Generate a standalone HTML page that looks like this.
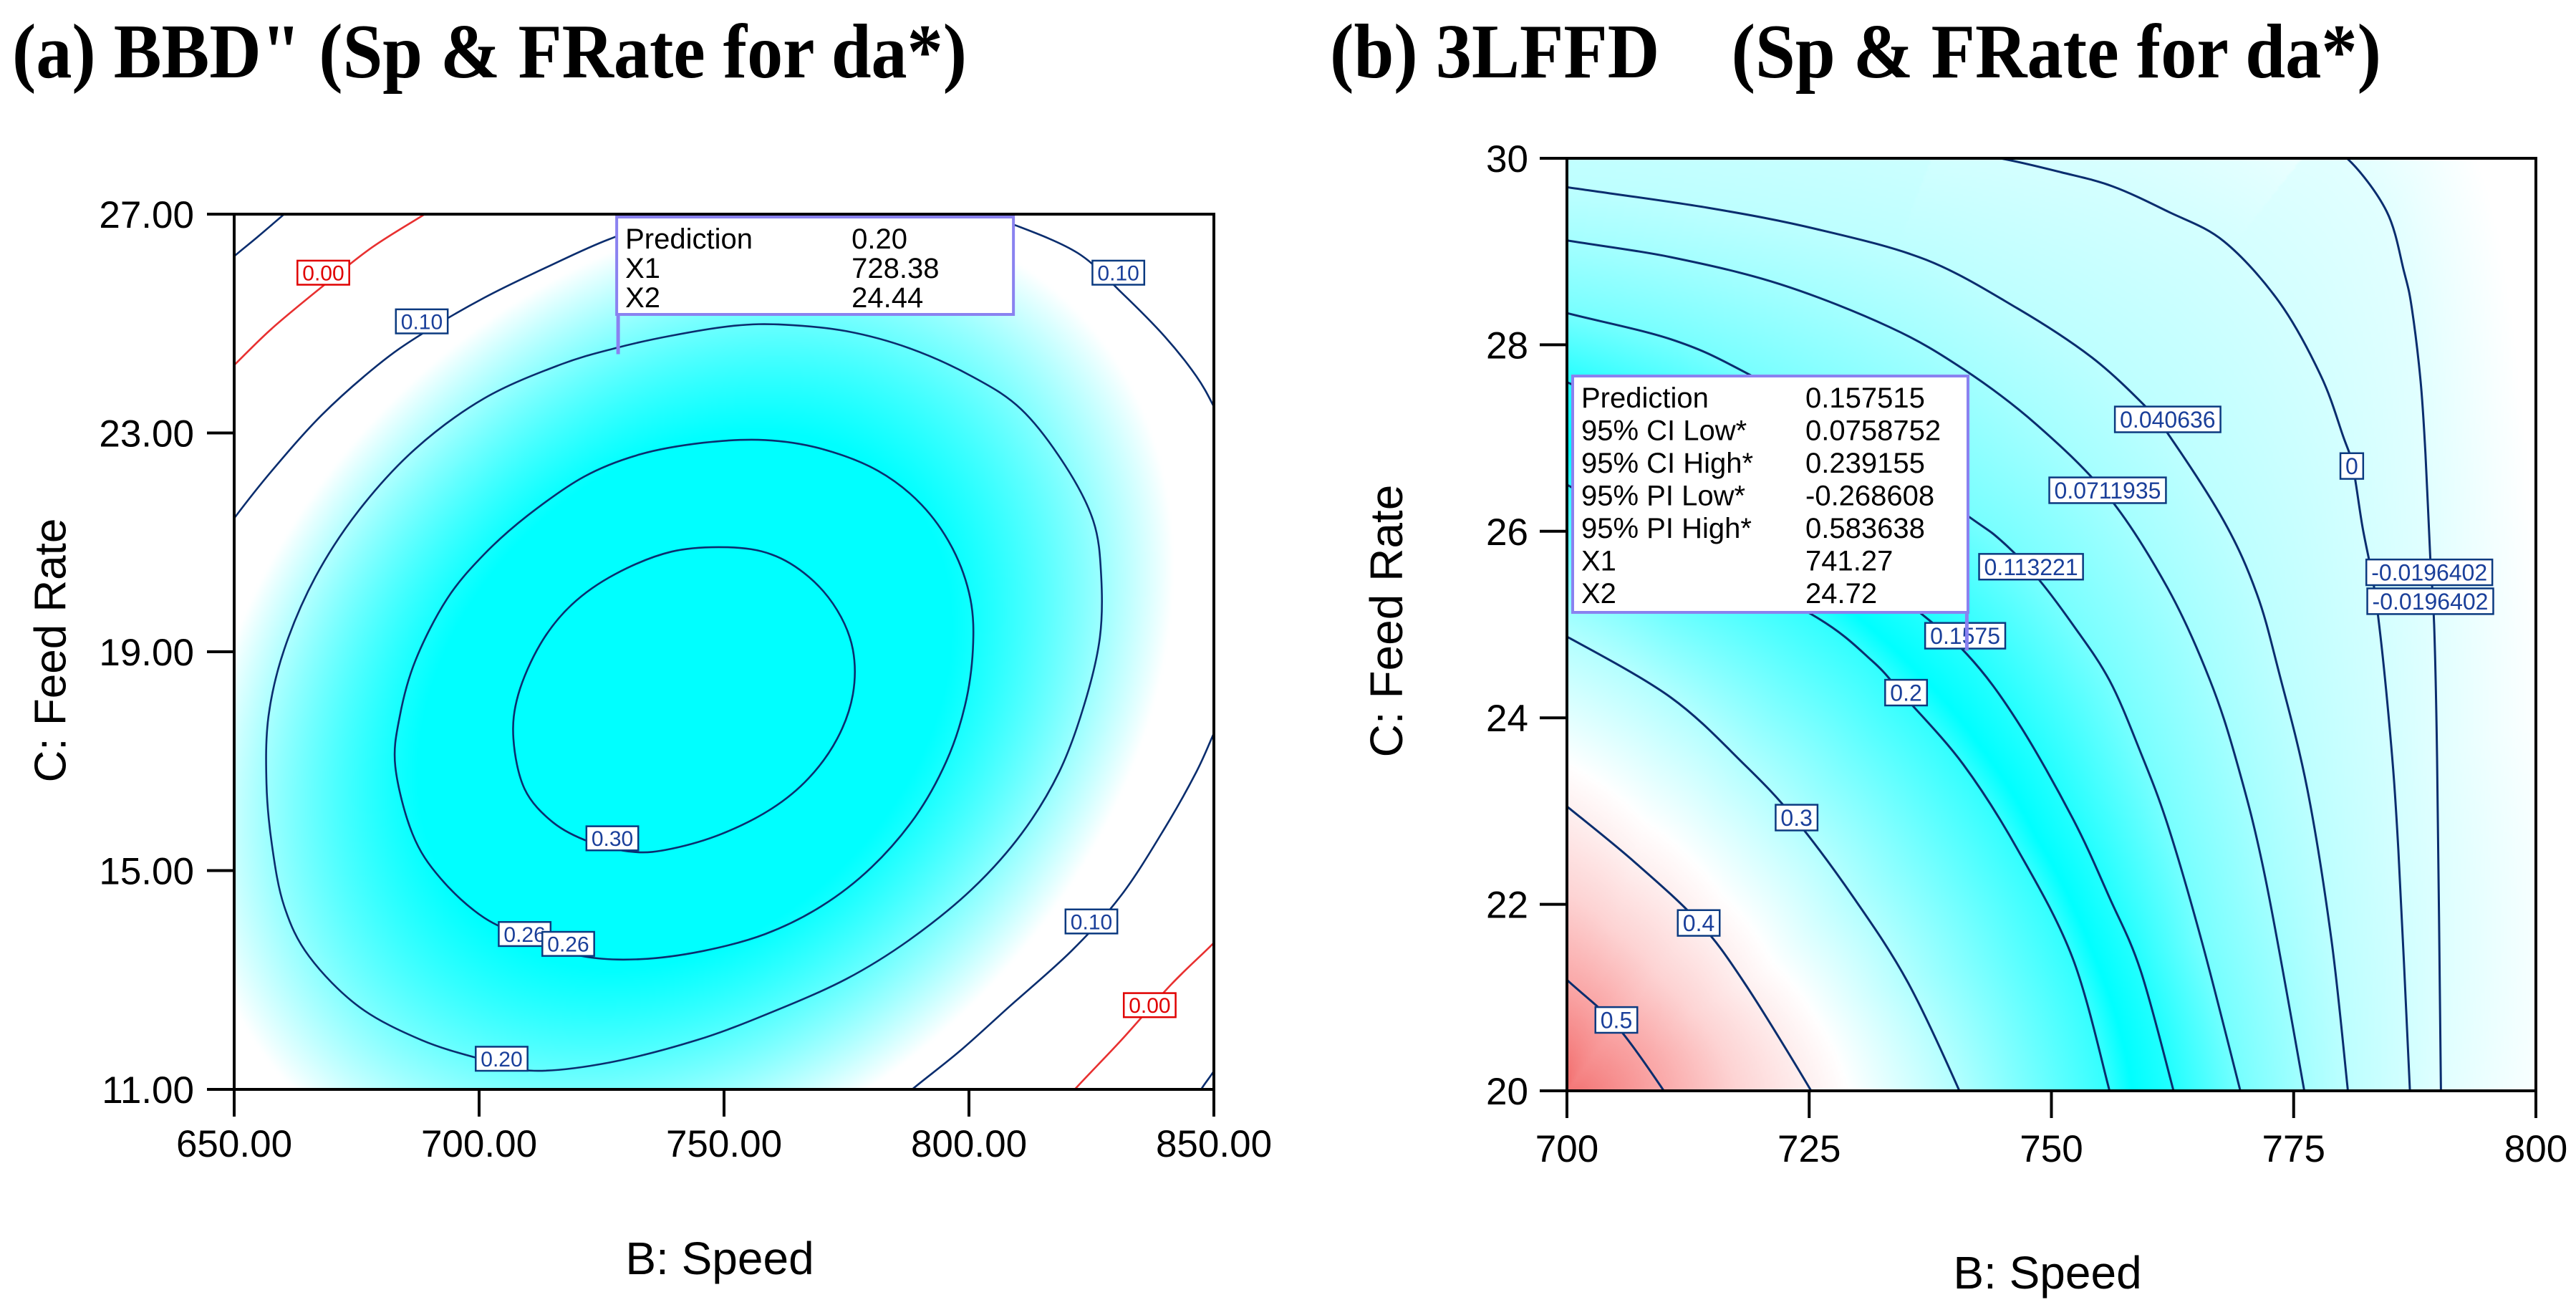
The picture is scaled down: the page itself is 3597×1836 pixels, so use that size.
<!DOCTYPE html>
<html><head><meta charset="utf-8"><style>
html,body{margin:0;padding:0;background:#fff;}
body{width:3597px;height:1836px;position:relative;overflow:hidden;font-family:"Liberation Sans",sans-serif;}
canvas{position:absolute;}
svg{position:absolute;left:0;top:0;}
</style></head><body>
<canvas id="bgL" style="left:327px;top:299px;width:1368px;height:1222px"></canvas>
<canvas id="bgR" style="left:2188px;top:221px;width:1353px;height:1302px"></canvas>
<svg id="s" width="3597" height="1836" viewBox="0 0 3597 1836" xmlns="http://www.w3.org/2000/svg">
<defs>
<clipPath id="clipL"><rect x="327" y="299" width="1368" height="1222"/></clipPath>
<clipPath id="clipR"><rect x="2188" y="221" width="1353" height="1302"/></clipPath>
</defs>
<text x="17" y="108" font-family="Liberation Serif, serif" font-weight="bold" font-size="108" textLength="1333" lengthAdjust="spacingAndGlyphs">(a) BBD" (Sp &amp; FRate for da*)</text>
<text x="1857" y="108" font-family="Liberation Serif, serif" font-weight="bold" font-size="108" textLength="1468" lengthAdjust="spacingAndGlyphs" xml:space="preserve" style="white-space:pre">(b) 3LFFD    (Sp &amp; FRate for da*)</text>
<g id="gL"></g>
<g id="gR"></g>
</svg>
<script>
// ---------- data: left chart (BBD) ----------
const leftXTicks=[650,700,750,800,850];
const leftXTickLabels=['650.00','700.00','750.00','800.00','850.00'];
const leftYTicks=[11,15,19,23,27];
const leftYTickLabels=['11.00','15.00','19.00','23.00','27.00'];
// quadratic response model (coded units): f0, uCenter, vCenter, A, B, C, scale
const leftModel=[0.32,-0.08,-0.11,1.27,1.0,-0.61,0.158];
const lc030=[[707.0,17.41],[708.0,18.22],[712.5,19.14],[718.9,19.86],[727.8,20.42],[739.3,20.83],[750.8,20.91],[759.7,20.78],[767.3,20.37],[773.1,19.76],[776.3,19.04],[776.3,18.22],[773.1,17.41],[767.3,16.69],[759.7,16.13],[749.5,15.67],[739.3,15.4],[731.6,15.34],[722.7,15.52],[715.1,15.88],[709.3,16.49]];
const lc026=[[682.9,16.9],[683.8,17.82],[687.0,18.84],[693.4,19.96],[701.0,20.78],[709.9,21.49],[721.4,22.2],[732.9,22.61],[745.7,22.82],[758.4,22.87],[769.9,22.71],[781.4,22.31],[790.3,21.69],[796.7,20.88],[800.3,19.96],[800.8,19.04],[799.2,18.02],[795.4,17.0],[789.0,15.98],[780.1,15.06],[769.9,14.35],[758.4,13.84],[745.7,13.53],[732.9,13.38],[721.4,13.43],[711.2,13.73],[701.0,14.14],[692.1,14.86],[686.4,15.67]];
const lc020=[[656.6,16.59],[657.0,17.82],[660.2,19.04],[666.6,20.37],[675.5,21.59],[687.0,22.71],[701.0,23.63],[716.3,24.24],[727.8,24.55],[739.3,24.78],[752.0,24.96],[762.2,24.98],[775.0,24.86],[787.8,24.55],[800.5,24.04],[810.7,23.43],[819.6,22.41],[825.4,21.39],[827.0,20.37],[826.7,19.24],[823.5,18.02],[818.4,16.8],[810.7,15.67],[800.5,14.65],[787.8,13.73],[775.0,13.02],[759.7,12.41],[744.4,11.9],[726.5,11.49],[711.2,11.34],[701.0,11.54],[688.3,11.9],[675.5,12.51],[665.3,13.43],[660.2,14.35],[657.7,15.47]];
const lc010a=[[645,20.8],[650,21.44],[657.7,22.31],[667.9,23.33],[679.3,24.24],[688.3,24.81],[701.0,25.47],[713.8,26.03],[726.5,26.54],[739.3,26.9],[764.8,27.2],[790,27.15],[803,26.95],[809.4,26.8],[822.2,26.29],[831.1,25.57],[840.0,24.76],[846.4,24.04],[850,23.48],[853,22.9]];
const lc010b=[[853,18.1],[850,17.51],[846.4,16.8],[840.0,15.78],[831.1,14.55],[820.9,13.53],[808.2,12.51],[798.0,11.69],[788.4,11.0],[785,10.7]];
const lc000a=[[645,23.8],[650,24.24],[657.7,24.91],[667.9,25.67],[678.1,26.39],[688.9,27.0],[693,27.25]];
const lc000b=[[817,10.5],[821.6,11.0],[831.1,11.9],[841.3,12.92],[850,13.68],[854,14.1]];
const lcm010a=[[646,25.9],[650,26.23],[655,26.6],[660.2,27.0],[664,27.3]];
const lcm010b=[[845,10.6],[847.4,11.0],[850.1,11.35],[853,11.8]];
const leftContours=[lc030,lc026,lc020,lc010a,lc010b,lc000a,lc000b,lcm010a,lcm010b];
const leftContourLevels=[0.30,0.26,0.20,0.10,0.10,0.00,0.00,-0.10,-0.10];
const leftLabelText=['0.00','0.10','0.10','0.30','0.26','0.26','0.20','0.10','0.00'];
const leftLabelPos=[[668.2,25.93],[688.3,25.04],[830.5,25.93],[727.2,15.59],[709.3,13.84],[718.2,13.66],[704.6,11.56],[825.0,14.07],[836.9,12.54]];
const leftPrediction=[728.38,24.44];
const leftPredRows=[['Prediction','0.20'],['X1','728.38'],['X2','24.44']];

// ---------- data: right chart (3LFFD) ----------
const rightXTicks=[700,725,750,775,800];
const rightXTickLabels=['700','725','750','775','800'];
const rightYTicks=[20,22,24,26,28,30];
const rightYTickLabels=['20','22','24','26','28','30'];
const rc05=[[697,21.5],[700,21.19],[705.1,20.7],[710.0,20.0],[711,19.8]];
const rc04=[[697,23.3],[700,23.05],[706.9,22.46],[713.6,21.81],[718.3,21.16],[725.2,20.0],[726,19.8]];
const rc03=[[697,25.0],[700,24.87],[710.7,24.22],[718.3,23.5],[723.5,22.92],[729.6,22.07],[735.2,21.16],[740.5,20.0],[741,19.8]];
const rc02=[[697,26.7],[700,26.5],[712,25.8],[725.4,25.1],[731.5,24.61],[734.9,24.22],[740.9,23.5],[746.5,22.59],[752.2,21.42],[756.0,20.0],[756.5,19.8]];
const rc01575=[[697,27.75],[700,27.6],[712,27.0],[725,26.1],[735,25.25],[741.3,24.68],[746.5,23.96],[752.2,22.92],[756.0,22.07],[759.2,21.29],[762.6,20.0],[763,19.8]];
const rc01132=[[697,28.45],[700,28.34],[710.7,28.06],[718.3,27.71],[730,27.0],[741.3,26.17],[744.7,25.91],[748.4,25.52],[752.2,25.0],[756.0,24.4],[759.2,23.63],[762.0,22.85],[765.5,21.61],[769.5,20.0],[770,19.8]];
const rc00712=[[697,29.2],[700,29.12],[710.7,28.94],[722.0,28.65],[733.3,28.19],[740.9,27.74],[748.4,27.15],[755.9,26.37],[762.0,25.39],[766.3,24.42],[769.2,23.5],[772.1,22.27],[776.1,20.0],[776.4,19.8]];
const rc00406=[[697,29.75],[700,29.69],[714.5,29.47],[725.8,29.24],[737.1,28.91],[746.5,28.39],[754.1,27.87],[759.6,27.35],[762.0,27.05],[767.8,26.11],[771.2,25.33],[773.5,24.48],[776.4,23.24],[778.9,21.62],[780.6,20.0],[780.8,19.8]];
const rc000=[[738,30.1],[744.7,30.0],[751,29.85],[756.3,29.7],[762.0,29.43],[767.8,29.11],[773.5,28.46],[777.8,27.67],[780.1,27.02],[781.1,26.7],[782.1,26.05],[783.5,25.26],[784.9,23.9],[785.8,22.59],[787.0,20.0],[787.1,19.8]];
const rcm0196=[[777,30.15],[780.5,30.0],[784.6,29.43],[786.4,28.78],[787.2,28.39],[788.1,27.61],[788.6,26.83],[789.1,25.72],[789.5,25.0],[789.8,23.57],[790.2,20.0],[790.2,19.8]];
const rightContours=[rc05,rc04,rc03,rc02,rc01575,rc01132,rc00712,rc00406,rc000,rcm0196];
const rightContourLevels=[0.5,0.4,0.3,0.2,0.1575,0.113221,0.0711935,0.040636,0,-0.0196402];
const rightLabelText=['0.040636','0.0711935','0.113221','0.1575','0.2','0.3','0.4','0.5','0','-0.0196402','-0.0196402'];
const rightLabelPos=[[762.0,27.2],[755.8,26.44],[747.9,25.62],[741.1,24.88],[735.0,24.27],[723.7,22.93],[713.6,21.8],[705.1,20.76],[781.0,26.7],[789.0,25.56],[789.1,25.25]];
const rightPrediction=[741.27,24.72];
const rightPredRows=[['Prediction','0.157515'],['95% CI Low*','0.0758752'],['95% CI High*','0.239155'],['95% PI Low*','-0.268608'],['95% PI High*','0.583638'],['X1','741.27'],['X2','24.72']];

// ---------- helpers ----------
const NS='http://www.w3.org/2000/svg';
function mk(tag,attrs,parent){const e=document.createElementNS(NS,tag);for(const k in attrs)e.setAttribute(k,attrs[k]);parent.appendChild(e);return e;}
function axis(d0,d1,p0,p1){return v=>p0+(v-d0)/(d1-d0)*(p1-p0);}
function smooth(pts){
  let d='M'+pts[0][0].toFixed(1)+','+pts[0][1].toFixed(1);
  for(let i=0;i<pts.length-1;i++){
    const p0=pts[Math.max(0,i-1)],p1=pts[i],p2=pts[i+1],p3=pts[Math.min(pts.length-1,i+2)];
    const c1=[p1[0]+(p2[0]-p0[0])/6,p1[1]+(p2[1]-p0[1])/6];
    const c2=[p2[0]-(p3[0]-p1[0])/6,p2[1]-(p3[1]-p1[1])/6];
    d+=' C'+c1[0].toFixed(1)+','+c1[1].toFixed(1)+' '+c2[0].toFixed(1)+','+c2[1].toFixed(1)+' '+p2[0].toFixed(1)+','+p2[1].toFixed(1);
  }
  return d;
}
function closedSmooth(pts){const n=pts.length;const ext=[pts[n-1]].concat(pts,[pts[0],pts[1]]);
  let d='M'+pts[0][0].toFixed(1)+','+pts[0][1].toFixed(1);
  for(let i=1;i<=n;i++){const p0=ext[i-1],p1=ext[i],p2=ext[i+1],p3=ext[i+2];
    const c1=[p1[0]+(p2[0]-p0[0])/6,p1[1]+(p2[1]-p0[1])/6];const c2=[p2[0]-(p3[0]-p1[0])/6,p2[1]-(p3[1]-p1[1])/6];
    d+=' C'+c1[0].toFixed(1)+','+c1[1].toFixed(1)+' '+c2[0].toFixed(1)+','+c2[1].toFixed(1)+' '+p2[0].toFixed(1)+','+p2[1].toFixed(1);}
  return d+'Z';
}
function lerpColor(stops,v){
  if(v<=stops[0][0])return stops[0].slice(1);
  for(let i=1;i<stops.length;i++){if(v<=stops[i][0]){const a=stops[i-1],b=stops[i];const t=(v-a[0])/(b[0]-a[0]);return [a[1]+(b[1]-a[1])*t,a[2]+(b[2]-a[2])*t,a[3]+(b[3]-a[3])*t];}}
  return stops[stops.length-1].slice(1);
}

function drawFrame(g,X,Y,x0,x1,y0,y1,xt,xtl,yt,ytl,tickLen,xLabY,yLabX,names){
  mk('rect',{x:x0,y:y0,width:x1-x0,height:y1-y0,fill:'none',stroke:'#000','stroke-width':4,},g);
  xt.forEach((v,i)=>{
    const t=mk('line',{x1:X(v),x2:X(v),y1:y1,y2:y1+tickLen,stroke:'#000','stroke-width':4},g);
    
    
    const l=mk('text',{x:X(v),y:xLabY,'font-size':53,'text-anchor':'middle',fill:'#000'},g);
    
    
    l.textContent=xtl[i];
  });
  yt.forEach((v,i)=>{
    const t=mk('line',{x1:x0-tickLen,x2:x0,y1:Y(v),y2:Y(v),stroke:'#000','stroke-width':4},g);
    
    
    const l=mk('text',{x:yLabX,y:Y(v)+19,'font-size':53,'text-anchor':'end',fill:'#000'},g);
    
    
    l.textContent=ytl[i];
  });
}
function drawLabel(g,x,y,txt,fs,red,name){
  const grp=mk('g',{},g);
  
  
  const r=mk('rect',{fill:'#fff',stroke:red?'#e00000':'#0b3a80','stroke-width':2.5},grp);
  const t=mk('text',{x:x,y:y+fs*0.36,'font-size':fs,'text-anchor':'middle',fill:red?'#e00000':'#1a3f9a'},grp);
  t.textContent=txt;
  let w=txt.length*fs*0.556;try{w=t.getBBox().width;}catch(e){}
  const h=fs*1.12;
  r.setAttribute('x',x-w/2-7);r.setAttribute('y',y-h/2);r.setAttribute('width',w+14);r.setAttribute('height',h);
}
function drawPred(g,px,py,left,top,w,h,rows,fs,rowGap,valX,name){
  const grp=mk('g',{},g);
  
  
  mk('line',{x1:px,x2:px,y1:top+h,y2:py,stroke:'#8a82f0','stroke-width':5},grp);
  mk('rect',{x:left,y:top,width:w,height:h,fill:'#fff',stroke:'#8a82f0','stroke-width':4},grp);
  rows.forEach((r,i)=>{
    const a=mk('text',{x:left+12,y:top+44+i*rowGap,'font-size':fs,fill:'#000'},grp);a.textContent=r[0];
    const b=mk('text',{x:left+valX,y:top+44+i*rowGap,'font-size':fs,fill:'#000'},grp);b.textContent=r[1];
  });
}

// ---------- left chart ----------
(function(){
  const g=document.getElementById('gL');
  const x0=327,x1=1695,y0=299,y1=1521;
  const X=axis(650,850,x0,x1),Y=axis(11,27,y1,y0);
  const cv=document.getElementById('bgL');const sc=3;const cw=Math.round((x1-x0)/sc),ch=Math.round((y1-y0)/sc);
  cv.width=cw;cv.height=ch;const ctx=cv.getContext('2d');const img=ctx.createImageData(cw,ch);
  const [f0,uc,vc,A,B,C,s]=leftModel;
  for(let j=0;j<ch;j++)for(let i=0;i<cw;i++){
    const u=(i+0.5)/cw*2-1,v=1-(j+0.5)/ch*2;const du=u-uc,dv=v-vc;
    const f=f0-s*(A*du*du+B*dv*dv+C*du*dv);
    let t=Math.min(1,Math.max(0,(f-0.135)/0.13));
    const rr=255*(1-t);const k=(j*cw+i)*4;
    img.data[k]=rr;img.data[k+1]=255;img.data[k+2]=255;img.data[k+3]=255;
  }
  ctx.putImageData(img,0,0);
  const cg=mk('g',{'clip-path':'url(#clipL)'},g);
  leftContours.forEach((c,i)=>{
    const pts=c.map(p=>[X(p[0]),Y(p[1])]);
    const closed=i<3;
    const p=mk('path',{d:closed?closedSmooth(pts):smooth(pts),fill:'none',stroke:leftContourLevels[i]===0?'#e83030':'#0a2d6e','stroke-width':2.6},cg);
    
    
  });
  drawFrame(g,X,Y,x0,x1,y0,y1,leftXTicks,leftXTickLabels,leftYTicks,leftYTickLabels,38,1615,271,'left');
  leftLabelText.forEach((t,i)=>drawLabel(g,X(leftLabelPos[i][0]),Y(leftLabelPos[i][1]),t,30,t==='0.00','left-contour-label'));
  const px=X(leftPrediction[0]),py=Y(leftPrediction[1]);
  drawPred(g,px,py,px-2,303,554,136,leftPredRows,40,41,328,'left-prediction-tooltip');
  const yt=mk('text',{x:0,y:0,'font-size':62,'text-anchor':'middle','dominant-baseline':'central',transform:'translate(71,908) rotate(-90)',fill:'#000',},g);yt.textContent='C: Feed Rate';
  const xt=mk('text',{x:1005,y:1757,'font-size':64,'text-anchor':'middle','dominant-baseline':'central',fill:'#000',},g);xt.textContent='B: Speed';
})();

// ---------- right chart ----------
(function(){
  const g=document.getElementById('gR');
  const x0=2188,x1=3541,y0=221,y1=1523;
  const X=axis(700,800,x0,x1),Y=axis(20,30,y1,y0);
  const polar=rightContours.map(c=>{
    const arr=c.map(p=>{const a=(p[0]-700)/100,b=(p[1]-20)/10;return {th:Math.atan2(b,a),r:Math.hypot(a,b),b:b};});
    arr.sort((m,n)=>m.th-n.th);return arr;});
  function rAt(arr,th){
    if(th<=arr[0].th)return arr[0].r;
    const last=arr[arr.length-1];
    if(th>=last.th)return last.b>=0.99?Infinity:last.r;
    for(let i=1;i<arr.length;i++)if(th<=arr[i].th){const a=arr[i-1],b=arr[i];const t=(th-a.th)/(b.th-a.th);return a.r+(b.r-a.r)*t;}
    return last.r;
  }
  const stops=[[-0.05,255,255,255],[-0.02,226,255,255],[0.0,212,255,255],[0.04,190,255,255],[0.0712,165,255,255],[0.113,120,255,255],[0.1575,35,255,255],[0.185,0,255,255],[0.2,50,255,255],[0.3,178,255,255],[0.375,255,255,255],[0.45,253,212,212],[0.5,250,170,170],[0.6,238,75,75]];
  const cv=document.getElementById('bgR');const sc=3;const cw=Math.round((x1-x0)/sc),ch=Math.round((y1-y0)/sc);
  cv.width=cw;cv.height=ch;const ctx=cv.getContext('2d');const img=ctx.createImageData(cw,ch);
  const L=rightContourLevels;
  for(let j=0;j<ch;j++)for(let i=0;i<cw;i++){
    const a=(i+0.5)/cw,b=1-(j+0.5)/ch;const th=Math.atan2(b,a),r=Math.hypot(a,b);
    const rs=polar.map(p=>rAt(p,th));
    let v;
    if(r<=rs[0])v=L[0]+(rs[0]-r)*0.6;
    else{let k=0;while(k<rs.length-1&&rs[k+1]<r)k++;
      if(k===rs.length-1||!isFinite(rs[k+1]))v=L[k]-(r-rs[k])*0.25;
      else{const t=(r-rs[k])/(rs[k+1]-rs[k]);v=L[k]+(L[k+1]-L[k])*t;}}
    const c=lerpColor(stops,v);const q=(j*cw+i)*4;
    img.data[q]=c[0];img.data[q+1]=c[1];img.data[q+2]=c[2];img.data[q+3]=255;
  }
  ctx.putImageData(img,0,0);
  const cg=mk('g',{'clip-path':'url(#clipR)'},g);
  rightContours.forEach((c,i)=>{
    const pts=c.map(p=>[X(p[0]),Y(p[1])]);
    const p=mk('path',{d:smooth(pts),fill:'none',stroke:'#0a2d6e','stroke-width':3},cg);
    
    
  });
  drawFrame(g,X,Y,x0,x1,y0,y1,rightXTicks,rightXTickLabels,rightYTicks,rightYTickLabels,38,1622,2134,'right');
  rightLabelText.forEach((t,i)=>drawLabel(g,X(rightLabelPos[i][0]),Y(rightLabelPos[i][1]),t,32,false,'right-contour-label'));
  const px=X(rightPrediction[0]),py=Y(rightPrediction[1]);
  drawPred(g,px,py,2196,525,552,330,rightPredRows,40,45.5,325,'right-prediction-tooltip');
  const yt=mk('text',{x:0,y:0,'font-size':64,'text-anchor':'middle','dominant-baseline':'central',transform:'translate(1936,867) rotate(-90)',fill:'#000',},g);yt.textContent='C: Feed Rate';
  const xt=mk('text',{x:2859,y:1777,'font-size':64,'text-anchor':'middle','dominant-baseline':'central',fill:'#000',},g);xt.textContent='B: Speed';
})();
</script>
</body></html>
